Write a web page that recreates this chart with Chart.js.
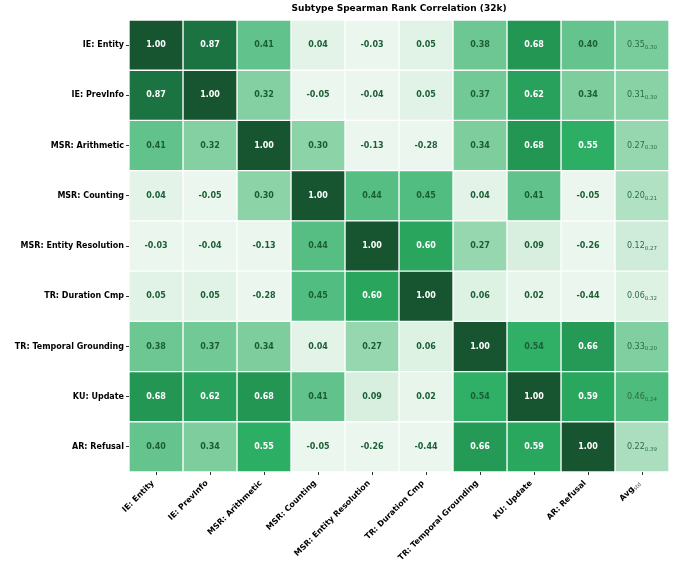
<!DOCTYPE html>
<html>
<head>
<meta charset="utf-8">
<script src="https://cdn.jsdelivr.net/npm/chart.js@4.4.1/dist/chart.umd.min.js"></script>
<style>
  html, body { margin: 0; padding: 0; background: #fff; }
</style>
</head>
<body>
<canvas id="corrChart" width="675" height="570"></canvas>
<script>
const FONT = "'DejaVu Sans', sans-serif";

const subtypes = ['IE: Entity', 'IE: PrevInfo', 'MSR: Arithmetic', 'MSR: Counting',
  'MSR: Entity Resolution', 'TR: Duration Cmp', 'TR: Temporal Grounding', 'KU: Update', 'AR: Refusal'];

// one row of the correlation matrix per subtype
const ieEntity        = [1.00, 0.87, 0.41, 0.04, -0.03, 0.05, 0.38, 0.68, 0.40];
const iePrevInfo      = [0.87, 1.00, 0.32, -0.05, -0.04, 0.05, 0.37, 0.62, 0.34];
const msrArithmetic   = [0.41, 0.32, 1.00, 0.30, -0.13, -0.28, 0.34, 0.68, 0.55];
const msrCounting     = [0.04, -0.05, 0.30, 1.00, 0.44, 0.45, 0.04, 0.41, -0.05];
const msrEntityRes    = [-0.03, -0.04, -0.13, 0.44, 1.00, 0.60, 0.27, 0.09, -0.26];
const trDurationCmp   = [0.05, 0.05, -0.28, 0.45, 0.60, 1.00, 0.06, 0.02, -0.44];
const trTemporalGround = [0.38, 0.37, 0.34, 0.04, 0.27, 0.06, 1.00, 0.54, 0.66];
const kuUpdate        = [0.68, 0.62, 0.68, 0.41, 0.09, 0.02, 0.54, 1.00, 0.59];
const arRefusal       = [0.40, 0.34, 0.55, -0.05, -0.26, -0.44, 0.66, 0.59, 1.00];

const avgMean = [0.35, 0.31, 0.27, 0.20, 0.12, 0.06, 0.33, 0.46, 0.22];
const avgStd  = [0.30, 0.30, 0.30, 0.21, 0.27, 0.32, 0.20, 0.24, 0.39];

const matrix = [ieEntity, iePrevInfo, msrArithmetic, msrCounting, msrEntityRes,
  trDurationCmp, trTemporalGround, kuUpdate, arRefusal];
const colLabels = subtypes.concat(['Avg']);

// green colour scale, values below 0 are clipped
const greenStops = [
  [0.00, [235, 247, 238]],
  [0.10, [214, 238, 222]],
  [0.30, [140, 211, 168]],
  [0.45, [82, 189, 128]],
  [0.55, [44, 174, 100]],
  [0.68, [35, 150, 83]],
  [0.87, [28, 115, 66]],
  [1.00, [23, 85, 48]]
];

function cellColor(v) {
  v = Math.max(0, Math.min(1, v));
  for (let i = 1; i < greenStops.length; i++) {
    const [v1, c1] = greenStops[i];
    const [v0, c0] = greenStops[i - 1];
    if (v <= v1) {
      const t = (v - v0) / (v1 - v0);
      const c = c0.map((ch, k) => Math.round(ch + (c1[k] - ch) * t));
      return `rgb(${c[0]},${c[1]},${c[2]})`;
    }
  }
  return 'rgb(23,85,48)';
}

const datasets = colLabels.map((col, c) => {
  const vals = subtypes.map((_, r) => c < 9 ? matrix[r][c] : avgMean[r]);
  return {
    label: col,
    data: subtypes.map(() => 1),
    values: vals,
    backgroundColor: vals.map(cellColor),
    borderColor: '#ffffff',
    borderWidth: 1,
    borderSkipped: false,
    barPercentage: 1,
    categoryPercentage: 1
  };
});

// write the numbers in the cells
const cellText = {
  id: 'cellText',
  afterDatasetsDraw(chart) {
    const ctx = chart.ctx;
    ctx.save();
    ctx.textBaseline = 'middle';
    chart.data.datasets.forEach((ds, c) => {
      chart.getDatasetMeta(c).data.forEach((el, r) => {
        const { x, y } = el.getCenterPoint();
        if (c < 9) {
          const v = ds.values[r];
          ctx.font = `bold 8px ${FONT}`;
          ctx.textAlign = 'center';
          ctx.fillStyle = v >= 0.545 ? '#ffffff' : '#1b5e36';
          ctx.fillText(v.toFixed(2), x, y);
        } else {
          const m = avgMean[r].toFixed(2), s = avgStd[r].toFixed(2);
          ctx.font = `8px ${FONT}`;
          const wm = ctx.measureText(m).width;
          ctx.font = `5.5px ${FONT}`;
          const ws = ctx.measureText(s).width;
          const x0 = x - (wm + ws) / 2;
          ctx.textAlign = 'left';
          ctx.fillStyle = '#2b6a45';
          ctx.font = `8px ${FONT}`;
          ctx.fillText(m, x0, y);
          ctx.font = `5.5px ${FONT}`;
          ctx.fillText(s, x0 + wm, y + 2.5);
        }
      });
    });
    ctx.restore();
  }
};

// rotated column labels + title
const labelsAndTitle = {
  id: 'labelsAndTitle',
  afterDraw(chart) {
    const ctx = chart.ctx;
    const area = chart.chartArea;
    const xs = chart.scales.x;
    ctx.save();
    ctx.fillStyle = '#000';
    ctx.font = `bold 9px ${FONT}`;
    ctx.textAlign = 'center';
    ctx.textBaseline = 'middle';
    ctx.fillText('Subtype Spearman Rank Correlation (32k)', (area.left + area.right) / 2, 9);

    colLabels.forEach((lab, i) => {
      const px = xs.getPixelForValue(i + 0.5);
      ctx.save();
      ctx.translate(px - 3, area.bottom + 10);
      ctx.rotate(-Math.PI / 4);
      ctx.textBaseline = 'middle';
      ctx.textAlign = 'right';
      if (lab === 'Avg') {
        ctx.font = `5.5px ${FONT}`;
        ctx.fillStyle = '#555';
        const ws = ctx.measureText('std').width;
        ctx.fillText('std', 0, 2);
        ctx.font = `bold 8px ${FONT}`;
        ctx.fillStyle = '#000';
        ctx.fillText('Avg', -ws, 0);
      } else {
        ctx.font = `bold 8px ${FONT}`;
        ctx.fillText(lab, 0, 0);
      }
      ctx.restore();
    });
    ctx.restore();
  }
};

new Chart(document.getElementById('corrChart'), {
  type: 'bar',
  data: { labels: subtypes, datasets: datasets },
  options: {
    responsive: false,
    animation: false,
    devicePixelRatio: 1,
    indexAxis: 'y',
    layout: { padding: { top: 20, right: 6, left: 0, bottom: 0 } },
    scales: {
      x: {
        type: 'linear',
        stacked: true,
        min: 0,
        max: 10,
        afterBuildTicks: s => { s.ticks = colLabels.map((_, i) => ({ value: i + 0.5 })); },
        afterFit: s => { s.height = 98; },
        ticks: { display: false },
        grid: { drawOnChartArea: false, drawTicks: true, tickLength: 3, tickColor: '#333' },
        border: { display: false }
      },
      y: {
        type: 'category',
        stacked: true,
        afterFit: s => { s.width = 129; },
        ticks: { color: '#000', padding: 2, font: { family: FONT, size: 8, weight: 'bold' } },
        grid: { offset: false, drawOnChartArea: false, tickLength: 3, tickColor: '#333' },
        border: { display: false }
      }
    },
    plugins: {
      legend: { display: false },
      tooltip: { enabled: false }
    }
  },
  plugins: [cellText, labelsAndTitle]
});
</script>
</body>
</html>
